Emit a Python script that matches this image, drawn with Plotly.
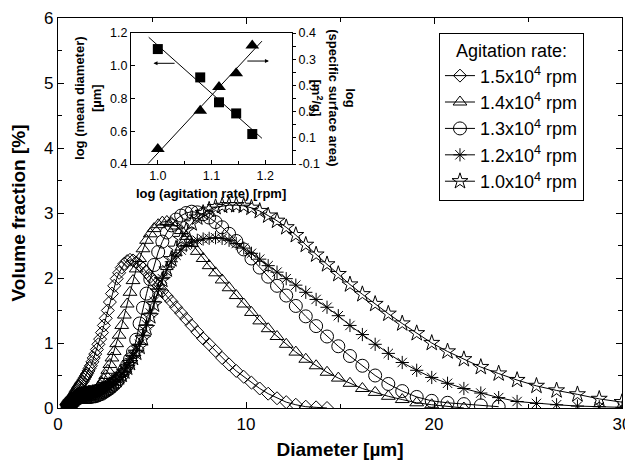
import plotly.graph_objects as go

# ---------------- data ----------------
diameter_um = [0.51, 0.53, 0.55, 0.58, 0.60, 0.63, 0.65, 0.68, 0.71, 0.74, 0.77, 0.80, 0.84, 0.87, 0.91, 0.95, 0.99,
               1.03, 1.07, 1.12, 1.16, 1.21, 1.26, 1.31, 1.37, 1.43, 1.49, 1.55, 1.62, 1.68, 1.75, 1.83, 1.90, 1.98,
               2.07, 2.15, 2.24, 2.34, 2.44, 2.54, 2.65, 2.76, 2.87, 2.99, 3.12, 3.25, 3.39, 3.53, 3.68, 3.83, 3.99,
               4.16, 4.34, 4.52, 4.71, 4.91, 5.11, 5.33, 5.55, 5.79, 6.03, 6.28, 6.55, 6.82, 7.11, 7.41, 7.72, 8.04,
               8.38, 8.73, 9.10, 9.48, 9.88, 10.29, 10.73, 11.18, 11.65, 12.14, 12.65, 13.18, 13.73, 14.31, 14.91,
               15.53, 16.19, 16.87, 17.57, 18.31, 19.08, 19.88, 20.72, 21.59, 22.49, 23.44, 24.42, 25.45, 26.52,
               27.63, 28.79, 30.00]

vf_15k = [0.02, 0.03, 0.04, 0.05, 0.06, 0.07, 0.08, 0.10, 0.11, 0.13, 0.15, 0.17, 0.19, 0.21, 0.23, 0.25, 0.27,
          0.29, 0.31, 0.33, 0.35, 0.37, 0.39, 0.41, 0.44, 0.47, 0.50, 0.53, 0.57, 0.61, 0.65, 0.71, 0.77, 0.83,
          0.90, 0.98, 1.06, 1.16, 1.27, 1.38, 1.50, 1.63, 1.76, 1.88, 1.99, 2.08, 2.16, 2.22, 2.26, 2.28, 2.27,
          2.24, 2.20, 2.15, 2.09, 2.02, 1.95, 1.88, 1.80, 1.72, 1.64, 1.55, 1.46, 1.37, 1.27, 1.17, 1.07, 0.98,
          0.88, 0.77, 0.67, 0.57, 0.48, 0.39, 0.30, 0.22, 0.15, 0.09, 0.05, 0.02, 0.01, 0.00]

vf_14k = [0.01, 0.02, 0.03, 0.04, 0.05, 0.06, 0.07, 0.09, 0.10, 0.12, 0.13, 0.15, 0.16, 0.18, 0.19, 0.20, 0.21,
          0.21, 0.22, 0.22, 0.23, 0.23, 0.23, 0.23, 0.23, 0.23, 0.23, 0.23, 0.23, 0.24, 0.24, 0.25, 0.26, 0.27,
          0.29, 0.32, 0.35, 0.39, 0.44, 0.50, 0.58, 0.67, 0.77, 0.87, 0.99, 1.12, 1.27, 1.43, 1.60, 1.78, 1.96,
          2.14, 2.30, 2.45, 2.58, 2.68, 2.76, 2.82, 2.86, 2.87, 2.85, 2.80, 2.73, 2.64, 2.53, 2.41, 2.30, 2.19,
          2.08, 1.97, 1.85, 1.73, 1.60, 1.47, 1.34, 1.22, 1.10, 0.98, 0.86, 0.75, 0.65, 0.55, 0.46,
          0.38, 0.30, 0.24, 0.18, 0.13, 0.08, 0.05, 0.02, 0.00]

vf_13k = [0.01, 0.01, 0.02, 0.02, 0.03, 0.04, 0.05, 0.06, 0.07, 0.08, 0.09, 0.10, 0.11, 0.12, 0.13, 0.14, 0.15,
          0.15, 0.16, 0.16, 0.17, 0.17, 0.17, 0.17, 0.17, 0.17, 0.17, 0.17, 0.17, 0.17, 0.17, 0.18, 0.18, 0.18,
          0.19, 0.20, 0.21, 0.22, 0.24, 0.26, 0.28, 0.30, 0.33, 0.36, 0.40, 0.45, 0.51, 0.58, 0.66, 0.75, 0.86,
          1.05, 1.30, 1.54, 1.76, 1.98, 2.20, 2.40, 2.56, 2.70, 2.81, 2.90, 2.96, 3.00, 3.02, 3.01, 2.98, 2.93,
          2.86, 2.78, 2.68, 2.57, 2.44, 2.30, 2.16, 2.02, 1.88, 1.73, 1.57, 1.41, 1.26, 1.10, 0.95,
          0.80, 0.65, 0.50, 0.37, 0.26, 0.17, 0.11, 0.08, 0.06, 0.04, 0.02]

vf_12k = [0.02, 0.03, 0.04, 0.05, 0.06, 0.07, 0.08, 0.09, 0.10, 0.11, 0.12, 0.13, 0.14, 0.15, 0.16, 0.17, 0.18,
          0.19, 0.20, 0.21, 0.21, 0.22, 0.22, 0.23, 0.23, 0.23, 0.24, 0.24, 0.24, 0.24, 0.25, 0.25, 0.25, 0.26,
          0.26, 0.27, 0.28, 0.29, 0.30, 0.32, 0.34, 0.36, 0.38, 0.41, 0.44, 0.48, 0.52, 0.57, 0.63, 0.70, 0.80,
          0.88, 0.98, 1.12, 1.28, 1.46, 1.64, 1.83, 1.99, 2.13, 2.25, 2.35, 2.43, 2.50, 2.55, 2.58, 2.60, 2.61,
          2.62, 2.61, 2.58, 2.53, 2.46, 2.38, 2.29, 2.19, 2.09, 1.99, 1.89, 1.78, 1.67, 1.55, 1.42,
          1.27, 1.13, 0.98, 0.84, 0.70, 0.58, 0.47, 0.38, 0.30, 0.23, 0.16, 0.10, 0.07, 0.05,
          0.03, 0.02, 0.01]

vf_10k = [0.01, 0.02, 0.03, 0.04, 0.05, 0.06, 0.07, 0.08, 0.09, 0.10, 0.11, 0.12, 0.13, 0.14, 0.15, 0.16, 0.17,
          0.18, 0.18, 0.19, 0.19, 0.20, 0.20, 0.20, 0.21, 0.21, 0.21, 0.21, 0.22, 0.22, 0.22, 0.23, 0.23, 0.24,
          0.24, 0.25, 0.26, 0.27, 0.28, 0.30, 0.32, 0.34, 0.37, 0.40, 0.43, 0.47, 0.51, 0.56, 0.62, 0.69, 0.77,
          0.85, 0.94, 1.07, 1.23, 1.41, 1.59, 1.79, 1.97, 2.13, 2.29, 2.45, 2.60, 2.73, 2.84, 2.93, 3.00, 3.05,
          3.09, 3.11, 3.12, 3.12, 3.11, 3.08, 3.03, 2.96, 2.88, 2.78, 2.66, 2.51, 2.36, 2.21, 2.06,
          1.90, 1.75, 1.60, 1.45, 1.30, 1.15, 1.00, 0.87, 0.75, 0.63, 0.53, 0.43, 0.34, 0.27,
          0.21, 0.14, 0.09]

series_names = ["1.5x10<sup>4</sup> rpm", "1.4x10<sup>4</sup> rpm", "1.3x10<sup>4</sup> rpm",
                "1.2x10<sup>4</sup> rpm", "1.0x10<sup>4</sup> rpm"]

main_x_ticks = [0, 10, 20, 30]
main_x_minor = [5, 15, 25]
main_y_ticks = [0, 1, 2, 3, 4, 5, 6]

# inset data
inset_log_rate = [1.000, 1.079, 1.114, 1.146, 1.176]
inset_log_diameter = [1.102, 0.929, 0.777, 0.709, 0.583]
inset_log_ssa = [-0.043, 0.103, 0.194, 0.246, 0.352]
fit_diam_x = [0.983, 1.194]
fit_diam_y = [1.174, 0.557]
fit_ssa_x = [0.982, 1.194]
fit_ssa_y = [-0.098, 0.369]

inset_x_ticks = [1.0, 1.1, 1.2]
inset_x_labels = ["1.0", "1.1", "1.2"]
inset_left_ticks = [0.4, 0.6, 0.8, 1.0, 1.2]
inset_left_labels = ["0.4", "0.6", "0.8", "1.0", "1.2"]
inset_right_ticks = [-0.1, 0.0, 0.1, 0.2, 0.3, 0.4]
inset_right_labels = ["-0.1", "0.1", "0.2", "0.3", "0.3", "0.4"]

# ---------------- figure ----------------
FONT = "Liberation Sans, Arial, Helvetica, sans-serif"
fig = go.Figure()

styles = [("diamond-open", 10), ("triangle-up-open", 12), ("circle-open", 13),
          ("asterisk-open", 11), ("star-open", 12)]
all_series = [vf_15k, vf_14k, vf_13k, vf_12k, vf_10k]

for name, vals, (sym, size) in zip(series_names, all_series, styles):
    fig.add_trace(go.Scatter(
        x=diameter_um[:len(vals)], y=vals, name=name, mode="lines+markers",
        line=dict(color="black", width=1),
        marker=dict(symbol=sym, size=size, color="black", line=dict(color="black", width=1)),
        xaxis="x", yaxis="y"))

# inset traces
fig.add_trace(go.Scatter(x=fit_diam_x, y=fit_diam_y, mode="lines", line=dict(color="black", width=1),
                         showlegend=False, xaxis="x2", yaxis="y2"))
fig.add_trace(go.Scatter(x=inset_log_rate, y=inset_log_diameter, mode="markers",
                         marker=dict(symbol="square", size=10, color="black"),
                         showlegend=False, xaxis="x2", yaxis="y2"))
fig.add_trace(go.Scatter(x=fit_ssa_x, y=fit_ssa_y, mode="lines", line=dict(color="black", width=1),
                         showlegend=False, xaxis="x2", yaxis="y3"))
fig.add_trace(go.Scatter(x=inset_log_rate, y=inset_log_ssa, mode="markers",
                         marker=dict(symbol="triangle-up", size=12, color="black"),
                         showlegend=False, xaxis="x2", yaxis="y3"))

axis_common = dict(showline=True, linecolor="black", showgrid=False, zeroline=False, automargin=False)

# the page body adds an 8 px offset, so the figure is 8 px smaller than the window
fig.update_layout(
    width=625, height=457,
    margin=dict(l=50, r=11, t=10, b=57, autoexpand=False),
    paper_bgcolor="white", plot_bgcolor="white",
    font=dict(family=FONT, color="black"),
    xaxis=dict(axis_common, domain=[0, 1], range=[0, 30], tickvals=main_x_ticks,
               ticks="inside", ticklen=6, tickwidth=1, tickcolor="black", linewidth=1.3,
               mirror="allticks", tickfont=dict(size=17),
               minor=dict(tickvals=main_x_minor, ticks="inside", ticklen=4, tickcolor="black"),
               title=dict(text="<b>Diameter [µm]</b>", font=dict(size=19), standoff=10)),
    yaxis=dict(axis_common, domain=[0, 1], range=[0, 6], tickvals=main_y_ticks,
               ticks="inside", ticklen=6, tickwidth=1, tickcolor="black", linewidth=1.3,
               mirror="allticks", tickfont=dict(size=17),
               minor=dict(dtick=0.5, ticks="inside", ticklen=4, tickcolor="black"),
               title=dict(text="<b>Volume fraction [%]</b>", font=dict(size=19), standoff=14)),
    xaxis2=dict(axis_common, domain=[0.1294, 0.4149], anchor="y2", range=[0.95, 1.25],
                tickvals=inset_x_ticks, ticktext=inset_x_labels, ticks="inside", ticklen=4,
                tickcolor="black", linewidth=1, mirror=True, tickfont=dict(size=12.5),
                minor=dict(dtick=0.05, ticks="inside", ticklen=3, tickcolor="black")),
    yaxis2=dict(axis_common, domain=[0.6256, 0.9615], anchor="x2", range=[0.4, 1.2],
                tickvals=inset_left_ticks, ticktext=inset_left_labels, ticks="inside", ticklen=4,
                tickcolor="black", linewidth=1, tickfont=dict(size=12.5)),
    yaxis3=dict(axis_common, overlaying="y2", anchor="x2", side="right", range=[-0.1, 0.4],
                tickvals=inset_right_ticks, ticktext=inset_right_labels, ticks="outside", ticklen=3,
                tickcolor="black", linewidth=1, tickfont=dict(size=12.5),
                minor=dict(dtick=0.05, ticks="outside", ticklen=3, tickcolor="black")),
    legend=dict(x=0.6755, y=0.9615, xanchor="left", yanchor="top",
                bordercolor="black", borderwidth=1, bgcolor="white",
                font=dict(size=18, family=FONT), itemwidth=30,
                title=dict(text="Agitation rate:", side="top center", font=dict(size=18, family=FONT))),
    showlegend=True,
)

annotations = [
    dict(text="<b>log (mean diameter)<br>[µm]</b>", xref="paper", yref="paper", x=0.0532, y=0.795,
         textangle=-90, showarrow=False, font=dict(size=13), xanchor="center", yanchor="middle"),
    dict(text="<b>log<br>(specific surface area)<br>[m<sup>2</sup>/g]</b>", xref="paper", yref="paper",
         x=0.4870, y=0.795, textangle=90, showarrow=False, font=dict(size=13),
         xanchor="center", yanchor="middle"),
    dict(text="<b>log (agitation rate) [rpm]</b>", xref="paper", yref="paper", x=0.2713, y=0.551,
         showarrow=False, font=dict(size=13), xanchor="center", yanchor="middle"),
    dict(x=0.992, y=1.015, xref="x2", yref="y2", ax=1.034, ay=1.015, axref="x2", ayref="y2",
         showarrow=True, arrowhead=2, arrowsize=0.8, arrowwidth=1, arrowcolor="black", text="", standoff=0),
    dict(x=1.207, y=0.293, xref="x2", yref="y3", ax=1.164, ay=0.293, axref="x2", ayref="y3",
         showarrow=True, arrowhead=2, arrowsize=0.8, arrowwidth=1, arrowcolor="black", text="", standoff=0),
]
fig.update_layout(annotations=annotations)

fig.write_html("out.html")
